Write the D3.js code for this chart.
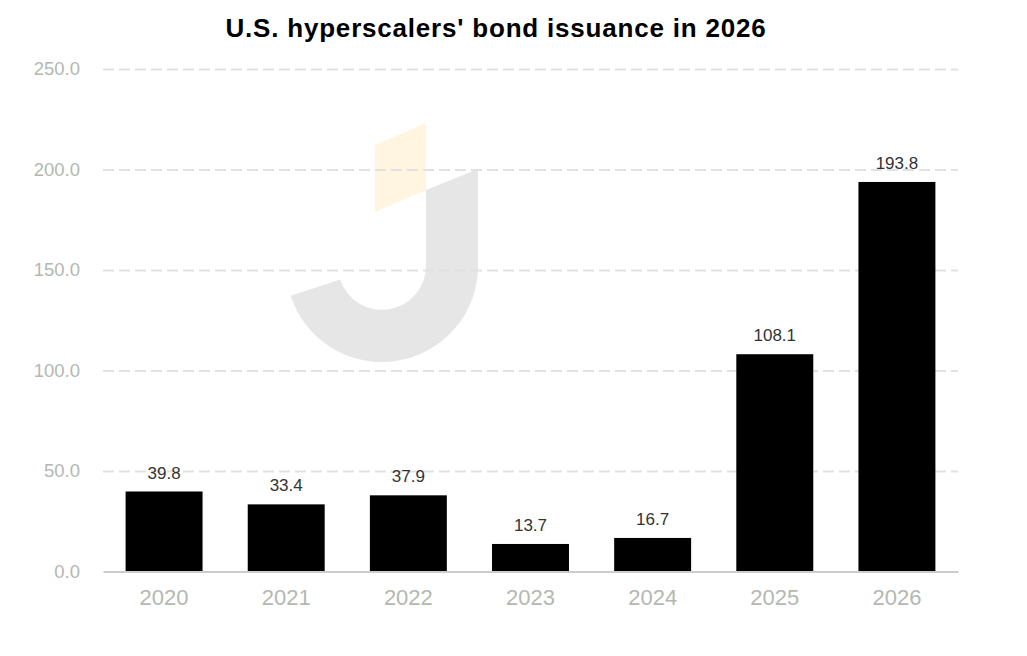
<!DOCTYPE html>
<html>
<head>
<meta charset="utf-8">
<script src="https://cdn.jsdelivr.net/npm/d3@7"></script>
<style>
  body { margin: 0; background: #fff; }
  svg { display: block; font-family: "Liberation Sans", Arial, sans-serif; }
</style>
</head>
<body>
<svg width="1027" height="656"></svg>
<script>
const years = ['2020', '2021', '2022', '2023', '2024', '2025', '2026']
const issuance = [39.8, 33.4, 37.9, 13.7, 16.7, 108.1, 193.8]
const yTicks = [0, 50, 100, 150, 200, 250]

const svg = d3.select('svg')
const width = +svg.attr('width')
const height = +svg.attr('height')

const plotLeft = 103
const plotRight = 958
const plotTop = 69
const plotBottom = 571.5

const x = d3.scaleBand()
    .domain(years)
    .range([plotLeft, plotRight])
    .paddingInner(0.37)
    .paddingOuter(0.185)

const y = d3.scaleLinear()
    .domain([0, 250])
    .range([plotBottom, plotTop])

// title
svg.append('text')
    .attr('x', 496)
    .attr('y', 37)
    .attr('text-anchor', 'middle')
    .attr('font-size', 26)
    .attr('font-weight', 'bold')
    .attr('letter-spacing', 0.8)
    .attr('fill', '#000')
    .text("U.S. hyperscalers' bond issuance in 2026")

// watermark logo
const logo = svg.append('g')
logo.append('path')
    .attr('d', 'M375,145 L426,123 L426,190 L375,212 Z')
    .attr('fill', '#fff5e1')
logo.append('path')
    .attr('d', 'M426,190 L478,169 L478,266 A96,96 0 0 1 290.7,295.7 L340.2,279.6 A44,44 0 0 0 426,266 Z')
    .attr('fill', '#e6e6e6')

// gridlines + y labels
const yAxis = svg.append('g')
    .attr('transform', `translate(${plotLeft},0)`)
    .call(d3.axisLeft(y).tickValues(yTicks).tickFormat(d3.format('.1f')).tickSize(0).tickPadding(23))
yAxis.select('.domain').remove()
yAxis.selectAll('text')
    .attr('font-size', 18.5)
    .attr('font-family', '"Liberation Sans", Arial, sans-serif')
    .attr('fill', '#b3b8b1')
yAxis.selectAll('.tick')
    .filter(d => d > 0)
    .append('line')
    .attr('x2', plotRight - plotLeft)
    .attr('stroke', '#e1e1e1')
    .attr('stroke-width', 2)
    .attr('stroke-dasharray', '11,5')

// bars
svg.append('g')
  .selectAll('rect')
  .data(issuance)
  .join('rect')
    .attr('x', (d, i) => x(years[i]))
    .attr('y', d => y(d))
    .attr('width', x.bandwidth())
    .attr('height', d => y(0) - y(d))
    .attr('fill', '#000')

// value labels
svg.append('g')
  .selectAll('text')
  .data(issuance)
  .join('text')
    .attr('x', (d, i) => x(years[i]) + x.bandwidth() / 2)
    .attr('y', d => y(d) - 13)
    .attr('text-anchor', 'middle')
    .attr('font-size', 17)
    .attr('fill', '#333')
    .text(d => d.toFixed(1))

// x axis
const xAxis = svg.append('g')
    .attr('transform', `translate(0,${plotBottom})`)
    .call(d3.axisBottom(x).tickSize(0).tickPadding(18))
xAxis.select('.domain')
    .attr('stroke', '#cccccc')
    .attr('stroke-width', 2)
xAxis.selectAll('text')
    .attr('font-size', 22)
    .attr('font-family', '"Liberation Sans", Arial, sans-serif')
    .attr('fill', '#b3b8b1')
</script>
</body>
</html>
